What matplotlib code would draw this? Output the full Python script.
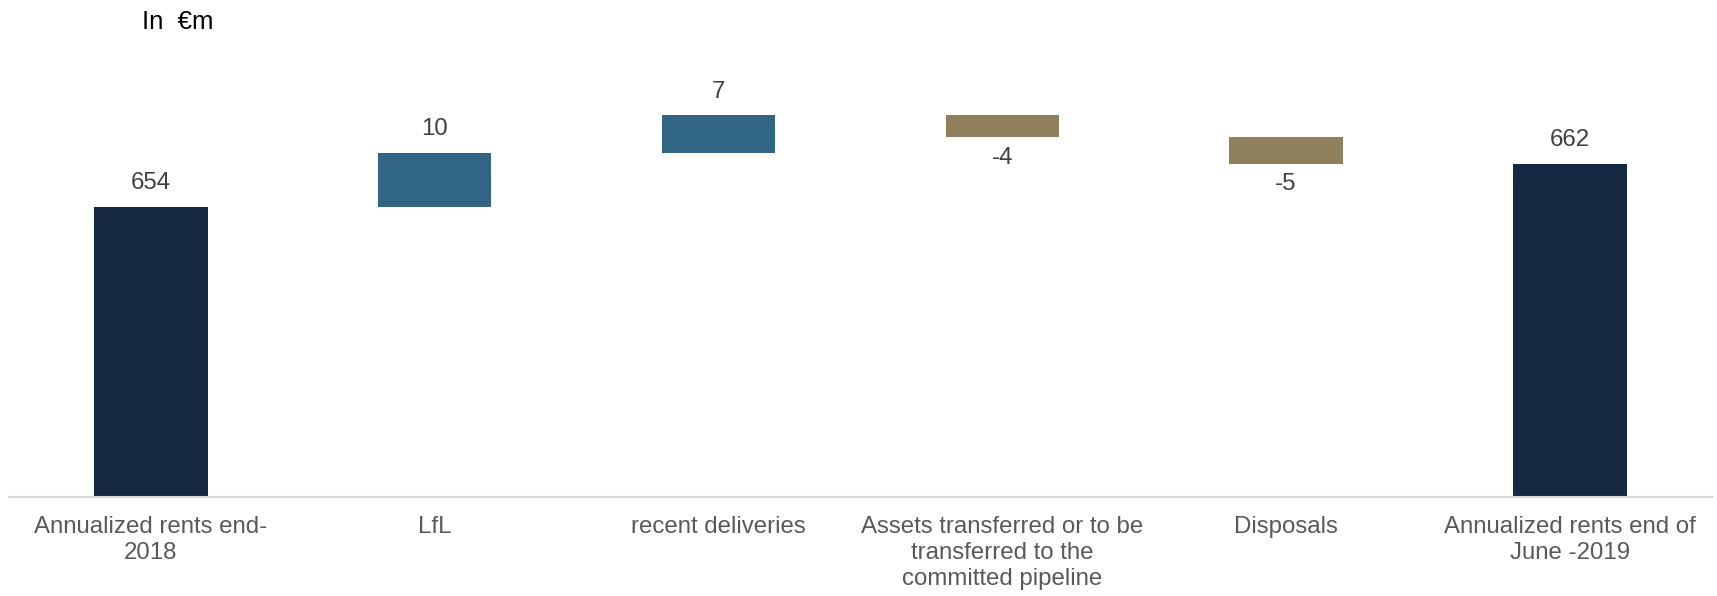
# waterfall of annualized rents, end-2018 to end of June 2019
import numpy as np
import matplotlib.pyplot as plt

plt.rcParams['font.family'] = ['Liberation Sans', 'DejaVu Sans']

# data
categories = ['Annualized rents end-\n2018', 'LfL', 'recent deliveries',
              'Assets transferred or to be\ntransferred to the\ncommitted pipeline',
              'Disposals', 'Annualized rents end of\nJune -2019']
changes = [654, 10, 7, -4, -5, 662]
kinds = ['total', 'up', 'up', 'down', 'down', 'total']

colors = {'total': '#152a42', 'up': '#306583', 'down': '#8f7f5a'}
y_floor = 600

# work out bottoms / heights for the floating bars
bottoms = []
heights = []
running = 0
for v, k in zip(changes, kinds):
    if k == 'total':
        bottoms.append(y_floor)
        heights.append(v - y_floor)
        running = v
    else:
        if v >= 0:
            bottoms.append(running)
            heights.append(v)
        else:
            bottoms.append(running + v)
            heights.append(-v)
        running += v

fig = plt.figure(figsize=(17.17, 5.96), dpi=100)
ax = fig.add_axes([0.0052, 0.1666, 0.9918, 0.811])

x = np.arange(len(categories))
ax.bar(x, heights, bottom=bottoms, width=0.40, linewidth=0,
       color=[colors[k] for k in kinds])

for xi, v, b, h in zip(x, changes, bottoms, heights):
    if v >= 0:
        ax.annotate(str(v), (xi, b + h), xytext=(0, 9), textcoords='offset points',
                    ha='center', va='bottom', fontsize=17.3, color='#404040')
    else:
        ax.annotate(str(v), (xi, b), xytext=(0, -7), textcoords='offset points',
                    ha='center', va='top', fontsize=17.3, color='#404040')

ax.set_xlim(-0.5, len(categories) - 0.5)
ax.set_ylim(y_floor, 690)
ax.set_xticks(x)
ax.set_xticklabels(categories, fontsize=17.3, color='#595959', linespacing=1.22)
ax.tick_params(axis='x', length=0, pad=14)
ax.set_yticks([])
for s in ['top', 'right', 'left']:
    ax.spines[s].set_visible(False)
ax.spines['bottom'].set_color('#d9d9d9')
ax.spines['bottom'].set_linewidth(1.5)

fig.text(142 / 1717, 1 - 22 / 596, 'In  €m', fontsize=18.5, color='black',
         ha='left', va='center')

fig.savefig('out.png', dpi=100)
